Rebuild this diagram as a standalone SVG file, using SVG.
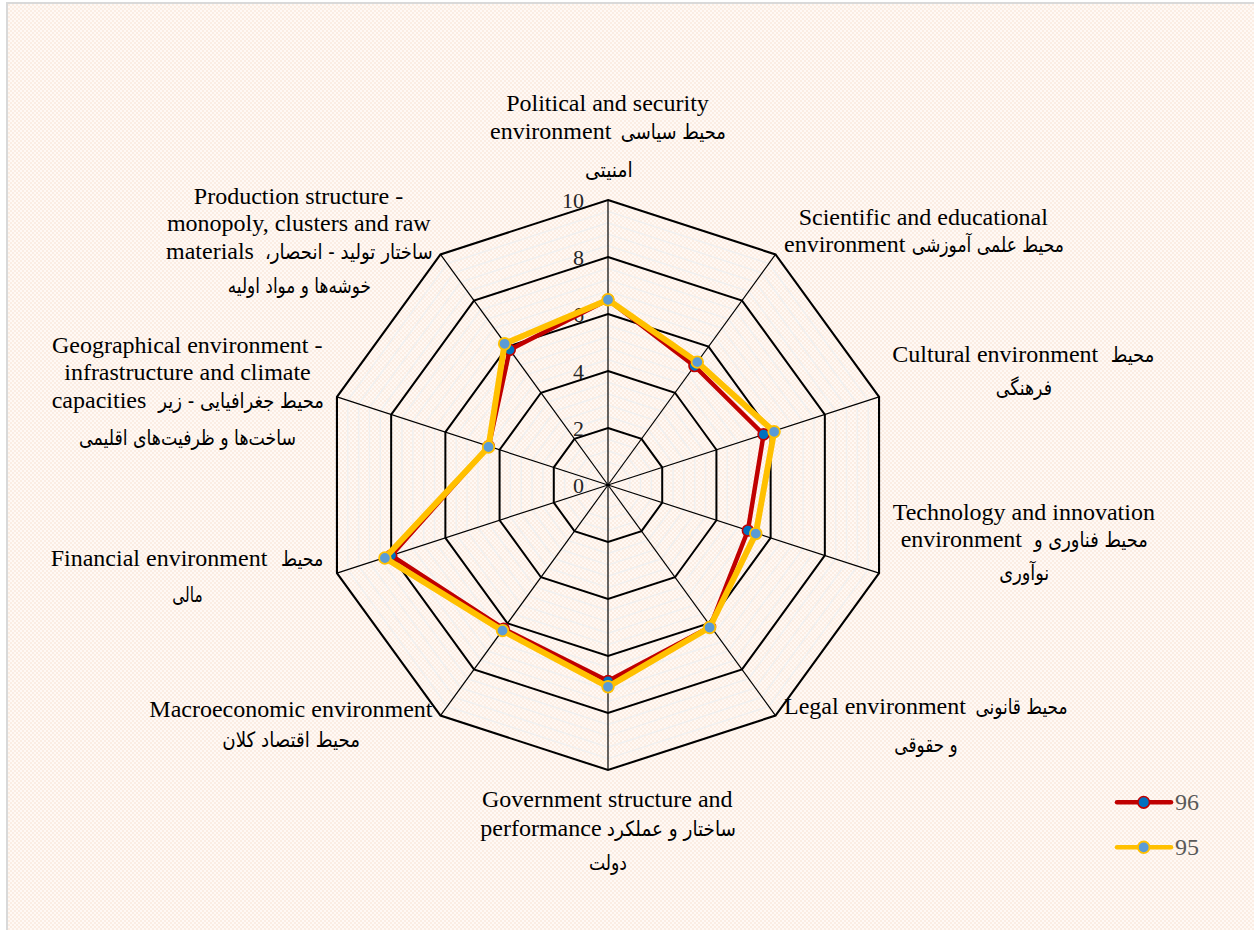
<svg xmlns="http://www.w3.org/2000/svg" xmlns:xlink="http://www.w3.org/1999/xlink" width="1254" height="930" viewBox="0 0 1254 930">
<style>
.en{font-family:"Liberation Serif","Times New Roman",serif;font-size:24px;fill:#000}
.fa{font-family:"DejaVu Sans","Noto Sans",sans-serif;font-size:21px;fill:#000}
.ax{font-family:"Liberation Serif","Times New Roman",serif;font-size:22px;fill:#262626;text-anchor:end}
.lg{font-family:"Liberation Serif","Times New Roman",serif;font-size:24px;fill:#595959}
.major{fill:none;stroke:#000}
.minor{fill:none;stroke:#F0F0F0}
.spoke{stroke:#000;stroke-width:1.2}
.s96{fill:none;stroke:#C00000;stroke-width:4.5;stroke-linejoin:round;stroke-linecap:round}
.s95{fill:none;stroke:#FFC000;stroke-width:6;stroke-linejoin:round;stroke-linecap:round}
.m96{fill:#0070C0;stroke:#C00000;stroke-width:1.6}
.m95{fill:#5B9BD5;stroke:#FFC000;stroke-width:1.8}
</style>
<defs>
<pattern id="bg" width="4" height="4" patternUnits="userSpaceOnUse">
<rect width="4" height="4" fill="#FFF9F5"/>
<rect width="2" height="2" fill="#FBEDE3"/>
<rect x="2" y="2" width="2" height="2" fill="#FBEDE3"/>
</pattern>
<polygon id="dec" points="0,-100 58.7785,-80.9017 95.1057,-30.9017 95.1057,30.9017 58.7785,80.9017 0,100 -58.7785,80.9017 -95.1057,30.9017 -95.1057,-30.9017 -58.7785,-80.9017"/>
</defs>
<rect width="1254" height="930" fill="#FFFFFF"/>
<rect x="7" y="3" width="1260" height="940" fill="url(#bg)" stroke="#D9D9D9" stroke-width="2"/>

<g id="grid" transform="translate(608,485)">
<g class="minor">
<use xlink:href="#dec" transform="scale(0.114)" stroke-width="12.28"/><use xlink:href="#dec" transform="scale(0.228)" stroke-width="6.14"/><use xlink:href="#dec" transform="scale(0.342)" stroke-width="4.094"/><use xlink:href="#dec" transform="scale(0.456)" stroke-width="3.07"/>
<use xlink:href="#dec" transform="scale(0.684)" stroke-width="2.047"/><use xlink:href="#dec" transform="scale(0.798)" stroke-width="1.754"/><use xlink:href="#dec" transform="scale(0.912)" stroke-width="1.535"/><use xlink:href="#dec" transform="scale(1.026)" stroke-width="1.365"/>
<use xlink:href="#dec" transform="scale(1.254)" stroke-width="1.116"/><use xlink:href="#dec" transform="scale(1.368)" stroke-width="1.023"/><use xlink:href="#dec" transform="scale(1.482)" stroke-width="0.945"/><use xlink:href="#dec" transform="scale(1.596)" stroke-width="0.877"/>
<use xlink:href="#dec" transform="scale(1.824)" stroke-width="0.768"/><use xlink:href="#dec" transform="scale(1.938)" stroke-width="0.722"/><use xlink:href="#dec" transform="scale(2.052)" stroke-width="0.682"/><use xlink:href="#dec" transform="scale(2.166)" stroke-width="0.646"/>
<use xlink:href="#dec" transform="scale(2.394)" stroke-width="0.585"/><use xlink:href="#dec" transform="scale(2.508)" stroke-width="0.558"/><use xlink:href="#dec" transform="scale(2.622)" stroke-width="0.534"/><use xlink:href="#dec" transform="scale(2.736)" stroke-width="0.512"/>
</g>
<g class="major">
<use xlink:href="#dec" transform="scale(0.57)" stroke-width="3.509"/><use xlink:href="#dec" transform="scale(1.14)" stroke-width="1.754"/><use xlink:href="#dec" transform="scale(1.71)" stroke-width="1.17"/><use xlink:href="#dec" transform="scale(2.28)" stroke-width="0.877"/><use xlink:href="#dec" transform="scale(2.85)" stroke-width="0.737"/>
</g>
<g class="spoke">
<line x1="0" y1="0" x2="0" y2="-285"/>
<line x1="0" y1="0" x2="167.52" y2="-230.57"/>
<line x1="0" y1="0" x2="271.05" y2="-88.07"/>
<line x1="0" y1="0" x2="271.05" y2="88.07"/>
<line x1="0" y1="0" x2="167.52" y2="230.57"/>
<line x1="0" y1="0" x2="0" y2="285"/>
<line x1="0" y1="0" x2="-167.52" y2="230.57"/>
<line x1="0" y1="0" x2="-271.05" y2="88.07"/>
<line x1="0" y1="0" x2="-271.05" y2="-88.07"/>
<line x1="0" y1="0" x2="-167.52" y2="-230.57"/>
</g>
</g>

<g id="axis-labels">
<text class="ax" x="584" y="493">0</text>
<text class="ax" x="584" y="436">2</text>
<text class="ax" x="584" y="379">4</text>
<text class="ax" x="584" y="322">6</text>
<text class="ax" x="584" y="265">8</text>
<text class="ax" x="584" y="208">10</text>
</g>

<g id="connectors">
<g id="series-96">
<polygon class="s96" points="608,299.75 694.5,366 763.6,434.4 747.9,530.5 710,627 608,681.1 503.6,628.7 391.2,555.5 488.7,446.3 509.7,349.7"/>
<g class="m96">
<circle cx="608" cy="299.75" r="5.5"/><circle cx="694.5" cy="366" r="5.5"/><circle cx="763.6" cy="434.4" r="5.5"/><circle cx="747.9" cy="530.5" r="5.5"/><circle cx="710" cy="627" r="5.5"/>
<circle cx="608" cy="681.1" r="5.5"/><circle cx="503.6" cy="628.7" r="5.5"/><circle cx="391.2" cy="555.5" r="5.5"/><circle cx="488.7" cy="446.3" r="5.5"/><circle cx="509.7" cy="349.7" r="5.5"/>
</g>
</g>
<g id="series-95">
<polygon class="s95" points="608,299.75 697.3,362.1 774.1,431.8 755.8,533.6 709.6,627.5 608,686.8 502.5,630.6 384.9,558 488.5,447 504.6,343.8"/>
<g class="m95">
<circle cx="608" cy="299.75" r="5.8"/><circle cx="697.3" cy="362.1" r="5.8"/><circle cx="774.1" cy="431.8" r="5.8"/><circle cx="755.8" cy="533.6" r="5.8"/><circle cx="709.6" cy="627.5" r="5.8"/>
<circle cx="608" cy="686.8" r="5.8"/><circle cx="502.5" cy="630.6" r="5.8"/><circle cx="384.9" cy="558" r="5.8"/><circle cx="488.5" cy="447" r="5.8"/><circle cx="504.6" cy="343.8" r="5.8"/>
</g>
</g>
</g>

<g id="label-political">
<text class="en" x="607.5" y="111" text-anchor="middle">Political and security</text>
<text class="en" x="490" y="139">environment</text>
<text class="fa" x="673.35" y="139" text-anchor="middle" textLength="105.3" lengthAdjust="spacingAndGlyphs">محیط سیاسی</text>
<text class="fa" x="608.85" y="177" text-anchor="middle" textLength="47.7" lengthAdjust="spacingAndGlyphs">امنیتی</text>
</g>
<g id="label-scientific">
<text class="en" x="923.3" y="225" text-anchor="middle">Scientific and educational</text>
<text class="en" x="784" y="252">environment</text>
<text class="fa" x="987.85" y="252" text-anchor="middle" textLength="152.3" lengthAdjust="spacingAndGlyphs">محیط علمی آموزشی</text>
</g>
<g id="label-cultural">
<text class="en" x="892.3" y="362">Cultural environment</text>
<text class="fa" x="1132.5" y="362" text-anchor="middle" textLength="43.6" lengthAdjust="spacingAndGlyphs">محیط</text>
<text class="fa" x="1023.85" y="395" text-anchor="middle" textLength="56.3" lengthAdjust="spacingAndGlyphs">فرهنگی</text>
</g>
<g id="label-technology">
<text class="en" x="1023.8" y="520" text-anchor="middle">Technology and innovation</text>
<text class="en" x="900.7" y="547">environment</text>
<text class="fa" x="1090.85" y="547" text-anchor="middle" textLength="113.7" lengthAdjust="spacingAndGlyphs">محیط فناوری و</text>
<text class="fa" x="1024.3" y="580" text-anchor="middle" textLength="50" lengthAdjust="spacingAndGlyphs">نوآوری</text>
</g>
<g id="label-legal">
<text class="en" x="784" y="714">Legal environment</text>
<text class="fa" x="1021.5" y="714" text-anchor="middle" textLength="92.2" lengthAdjust="spacingAndGlyphs">محیط قانونی</text>
<text class="fa" x="926" y="752" text-anchor="middle" textLength="63.3" lengthAdjust="spacingAndGlyphs">و حقوقی</text>
</g>
<g id="label-government">
<text class="en" x="607.3" y="807" text-anchor="middle">Government structure and</text>
<text class="en" x="480.3" y="836">performance</text>
<text class="fa" x="671.4" y="836" text-anchor="middle" textLength="129.2" lengthAdjust="spacingAndGlyphs">ساختار و عملکرد</text>
<text class="fa" x="608" y="870" text-anchor="middle" textLength="38" lengthAdjust="spacingAndGlyphs">دولت</text>
</g>
<g id="label-macroeconomic">
<text class="en" x="149.3" y="717">Macroeconomic environment</text>
<text class="fa" x="291.15" y="747" text-anchor="middle" textLength="137.7" lengthAdjust="spacingAndGlyphs">محیط اقتصاد کلان</text>
</g>
<g id="label-financial">
<text class="en" x="50.7" y="566">Financial environment</text>
<text class="fa" x="302.15" y="566" text-anchor="middle" textLength="42.3" lengthAdjust="spacingAndGlyphs">محیط</text>
<text class="fa" x="187.5" y="602" text-anchor="middle" textLength="30.4" lengthAdjust="spacingAndGlyphs">مالی</text>
</g>
<g id="label-geographical">
<text class="en" x="187.2" y="353" text-anchor="middle">Geographical environment -</text>
<text class="en" x="187.5" y="380" text-anchor="middle">infrastructure and climate</text>
<text class="en" x="51.7" y="408">capacities</text>
<text class="fa" x="241.15" y="408" text-anchor="middle" textLength="165.7" lengthAdjust="spacingAndGlyphs">محیط جغرافیایی - زیر</text>
<text class="fa" x="187.5" y="445" text-anchor="middle" textLength="217" lengthAdjust="spacingAndGlyphs">ساخت&#x200C;ها و ظرفیت&#x200C;های اقلیمی</text>
</g>
<g id="label-production">
<text class="en" x="298.5" y="204" text-anchor="middle">Production structure -</text>
<text class="en" x="298.8" y="231" text-anchor="middle">monopoly, clusters and raw</text>
<text class="en" x="166" y="259">materials</text>
<text class="fa" x="348.85" y="259" text-anchor="middle" direction="rtl" textLength="167.7" lengthAdjust="spacingAndGlyphs">ساختار تولید - انحصار،</text>
<text class="fa" x="299.35" y="293" text-anchor="middle" textLength="143.3" lengthAdjust="spacingAndGlyphs">خوشه&#x200C;ها و مواد اولیه</text>
</g>

<g id="legend">
<line x1="1117" y1="802.3" x2="1171" y2="802.3" stroke="#C00000" stroke-width="4.5" stroke-linecap="round"/>
<circle class="m96" cx="1143.7" cy="802.3" r="5.8"/>
<text class="lg" x="1175" y="810">96</text>
<line x1="1117" y1="847.3" x2="1171" y2="847.3" stroke="#FFC000" stroke-width="4.5" stroke-linecap="round"/>
<circle class="m95" cx="1143.7" cy="847.3" r="5.8"/>
<text class="lg" x="1175" y="855">95</text>
</g>
</svg>
